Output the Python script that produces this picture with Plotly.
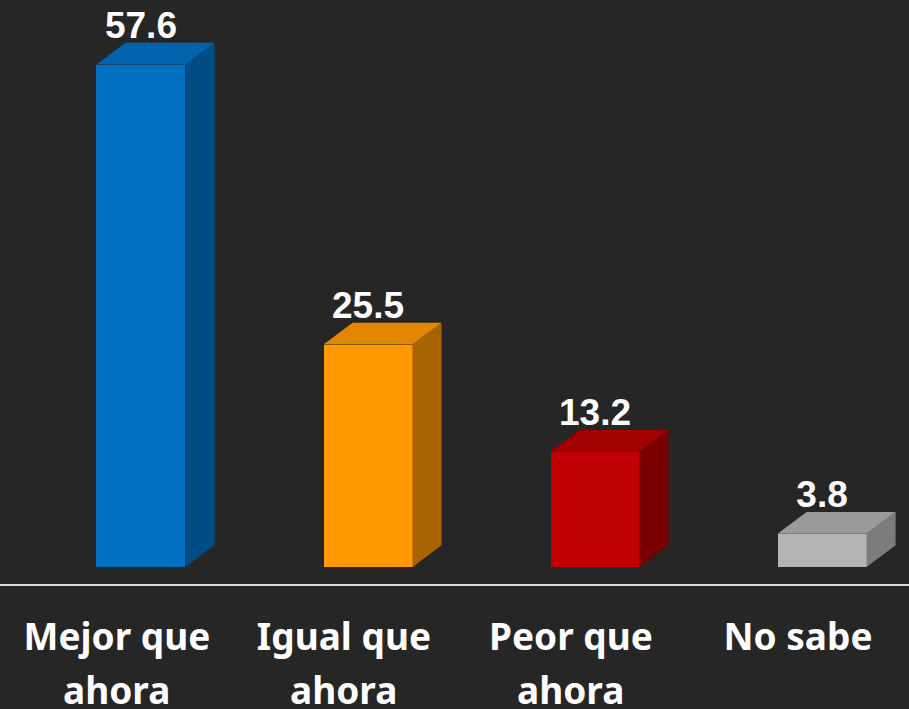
import plotly.graph_objects as go

cat_line1 = ["Mejor que", "Igual que", "Peor que", "No sabe"]
cat_line2 = ["ahora", "ahora", "ahora", ""]
values = [57.6, 25.5, 13.2, 3.8]
value_labels = ["57.6", "25.5", "13.2", "3.8"]

front_colors = ["#0070C0", "#FF9900", "#C00000", "#B3B3B3"]
top_colors = ["#0063AD", "#E38600", "#A30000", "#9A9A9A"]
side_colors = ["#004D85", "#A86400", "#7A0000", "#7C7C7C"]

BG = "#262626"

# bar geometry in axis units
bar_offset = -0.090
bar_width = 0.392
depth_x = 0.128
depth_y = 2.5

xs = list(range(len(cat_line1)))

fig = go.Figure()

for i, v in enumerate(values):
    xl = xs[i] + bar_offset
    xr = xl + bar_width
    # side face
    fig.add_trace(go.Scatter(
        x=[xr, xr + depth_x, xr + depth_x, xr, xr],
        y=[0, depth_y, v + depth_y, v, 0],
        fill="toself", fillcolor=side_colors[i], mode="lines",
        line=dict(width=0), hoverinfo="skip", showlegend=False
    ))
    # top face
    fig.add_trace(go.Scatter(
        x=[xl, xl + depth_x, xr + depth_x, xr, xl],
        y=[v, v + depth_y, v + depth_y, v, v],
        fill="toself", fillcolor=top_colors[i], mode="lines",
        line=dict(width=0), hoverinfo="skip", showlegend=False
    ))

# front faces
fig.add_trace(go.Bar(
    x=xs, y=values, width=bar_width, offset=bar_offset,
    marker=dict(color=front_colors, line=dict(width=0)),
    showlegend=False, hoverinfo="skip"
))

# value labels
fig.add_trace(go.Scatter(
    x=[x + bar_offset + bar_width / 2 for x in xs],
    y=[v + depth_y - 0.5 for v in values],
    mode="text", text=value_labels, textposition="top center",
    textfont=dict(family="Liberation Sans", size=37, color="white", weight="bold"),
    showlegend=False, hoverinfo="skip"
))

# second line of category labels
for x, t in zip(xs, cat_line2):
    if t:
        fig.add_annotation(
            x=x, y=-0.18, xref="x", yref="paper",
            text=t, showarrow=False, yanchor="middle",
            font=dict(family="Noto Sans", size=37, color="white", weight="bold"),
        )

fig.update_layout(
    width=909, height=709,
    paper_bgcolor=BG, plot_bgcolor=BG,
    margin=dict(l=0, r=0, t=0, b=125),
    xaxis=dict(
        range=[-0.515, 3.489],
        tickmode="array", tickvals=xs, ticktext=cat_line1,
        tickfont=dict(family="Noto Sans", size=37, color="white", weight="bold"),
        showgrid=False, zeroline=False,
        showline=True, linecolor="#D9D9D9", linewidth=2,
        ticks="outside", ticklen=20, tickcolor="rgba(0,0,0,0)",
    ),
    yaxis=dict(
        range=[-1.95, 65.0],
        visible=False, showgrid=False, zeroline=False,
    ),
    bargap=0,
)

fig.write_html(
    "out.html",
    config={"displayModeBar": False},
    post_script="document.body.style.margin='0';document.body.style.overflow='hidden';document.body.style.background='%s';" % BG,
)
